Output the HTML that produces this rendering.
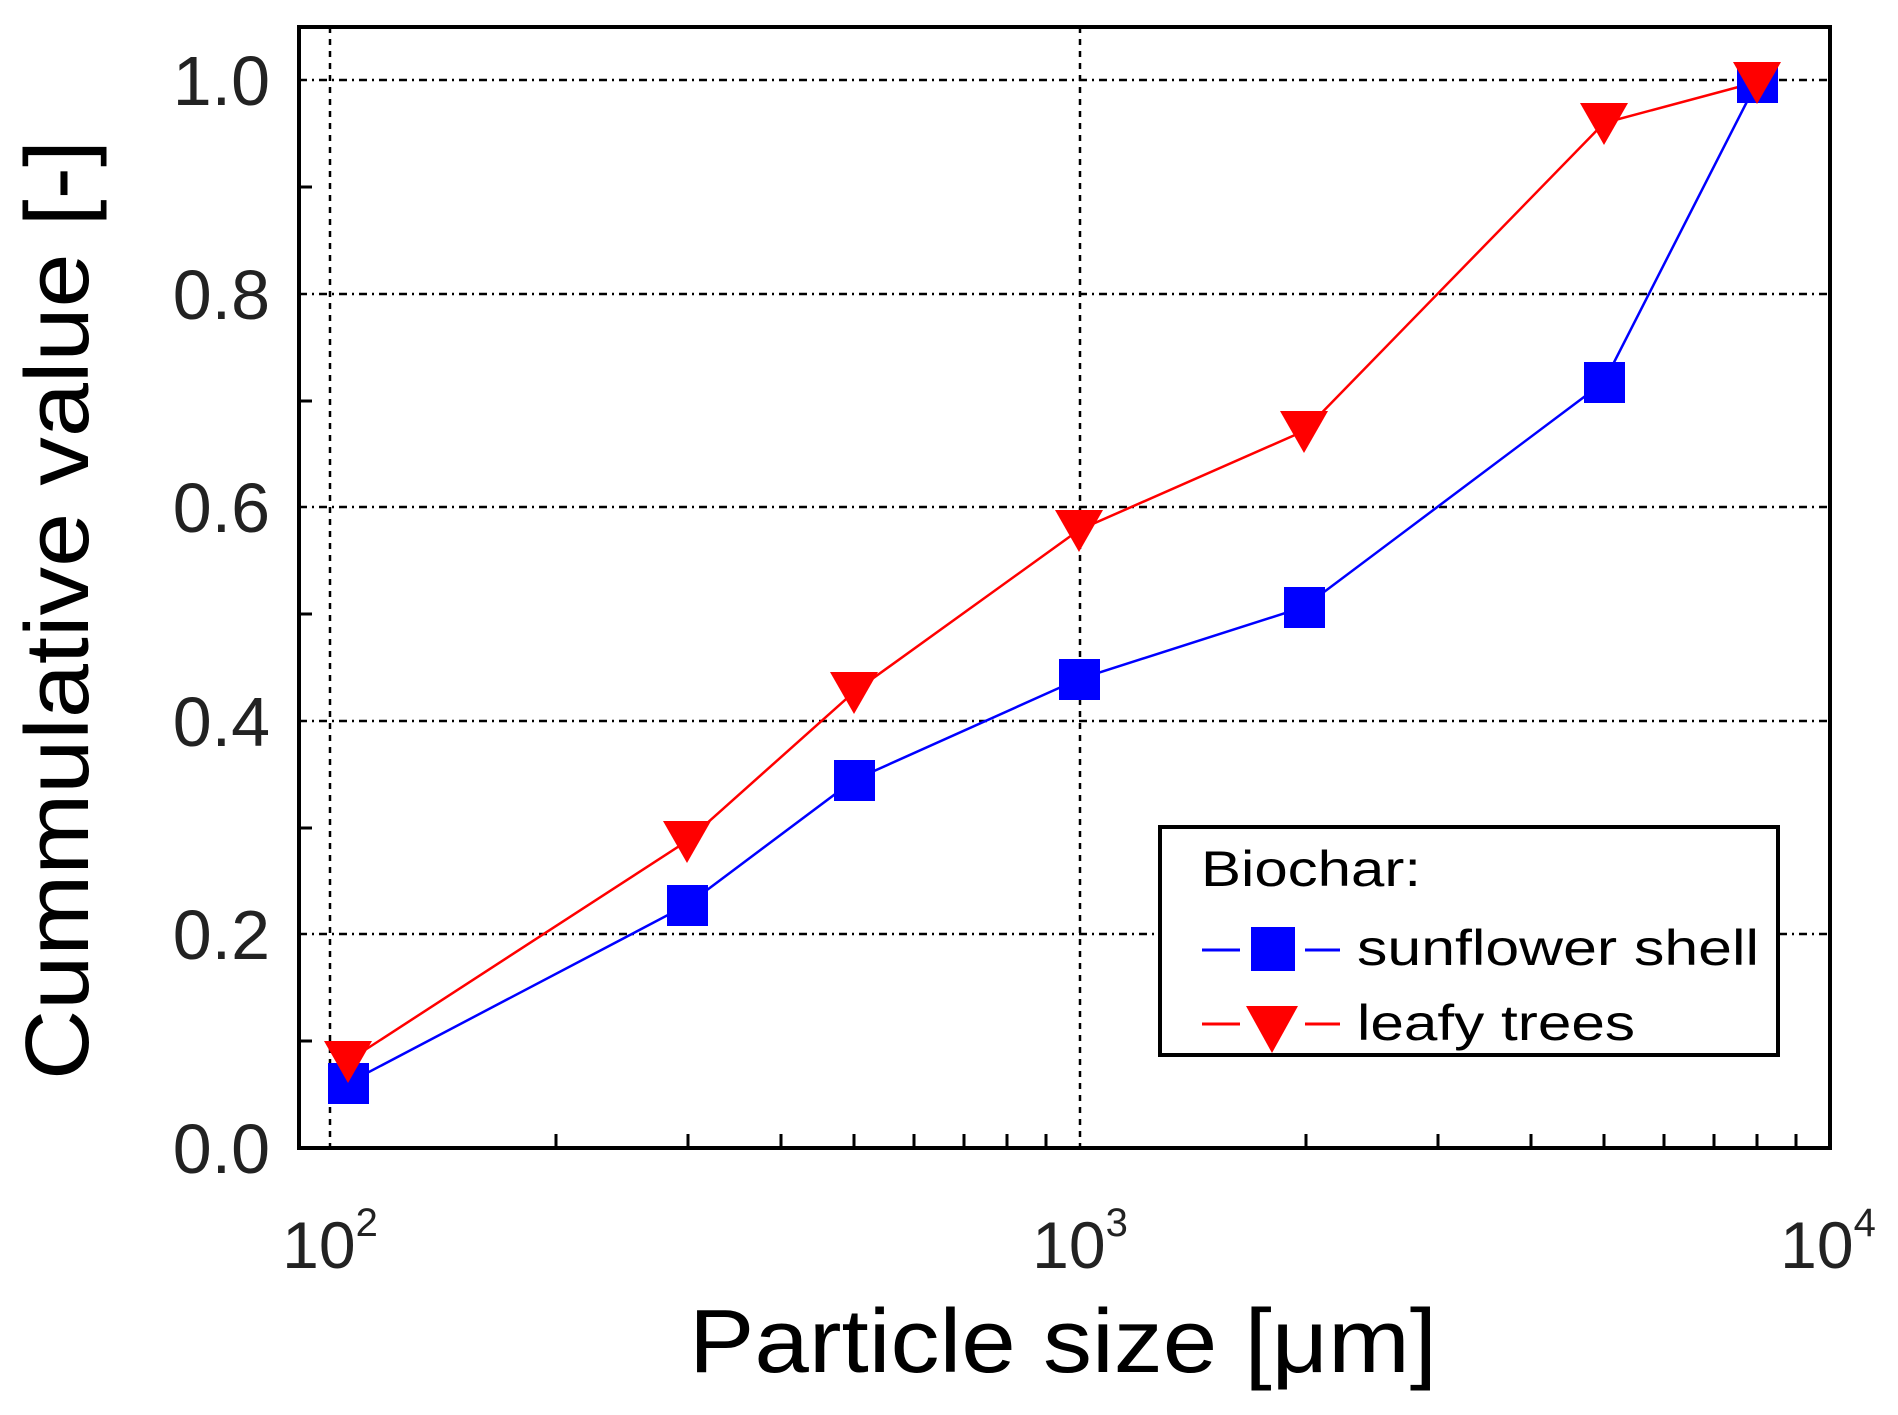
<!DOCTYPE html>
<html><head><meta charset="utf-8"><style>html,body{margin:0;padding:0;background:#fff}svg{display:block}</style></head>
<body>
<svg width="1898" height="1415" viewBox="0 0 1898 1415" xmlns="http://www.w3.org/2000/svg" font-family="Liberation Sans, sans-serif">
<rect width="1898" height="1415" fill="#fff"/>
<g stroke="#000" stroke-width="2.5" stroke-dasharray="8,5,2,5" fill="none">
<line x1="299" y1="80" x2="1830" y2="80"/>
<line x1="299" y1="294" x2="1830" y2="294"/>
<line x1="299" y1="507" x2="1830" y2="507"/>
<line x1="299" y1="721" x2="1830" y2="721"/>
<line x1="299" y1="934" x2="1830" y2="934"/>
</g>
<g stroke="#000" stroke-width="2.5" stroke-dasharray="6,6" fill="none">
<line x1="330" y1="27" x2="330" y2="1148"/>
<line x1="1080" y1="27" x2="1080" y2="1148"/>
</g>
<g stroke="#000" stroke-width="3">
<line x1="556" y1="1148" x2="556" y2="1134"/><line x1="688" y1="1148" x2="688" y2="1134"/><line x1="781" y1="1148" x2="781" y2="1134"/><line x1="854" y1="1148" x2="854" y2="1134"/><line x1="914" y1="1148" x2="914" y2="1134"/><line x1="964" y1="1148" x2="964" y2="1134"/><line x1="1007" y1="1148" x2="1007" y2="1134"/><line x1="1046" y1="1148" x2="1046" y2="1134"/>
<line x1="1306" y1="1148" x2="1306" y2="1134"/><line x1="1438" y1="1148" x2="1438" y2="1134"/><line x1="1531" y1="1148" x2="1531" y2="1134"/><line x1="1604" y1="1148" x2="1604" y2="1134"/><line x1="1664" y1="1148" x2="1664" y2="1134"/><line x1="1714" y1="1148" x2="1714" y2="1134"/><line x1="1757" y1="1148" x2="1757" y2="1134"/><line x1="1796" y1="1148" x2="1796" y2="1134"/>
<line x1="299" y1="187" x2="312" y2="187"/><line x1="299" y1="401" x2="312" y2="401"/><line x1="299" y1="614" x2="312" y2="614"/><line x1="299" y1="828" x2="312" y2="828"/><line x1="299" y1="1041" x2="312" y2="1041"/>
</g>
<rect x="299" y="27" width="1531" height="1121" fill="none" stroke="#000" stroke-width="4"/>
<polyline points="348,1083 687,905 854,780 1079,679 1304,607 1604,382 1757,82" fill="none" stroke="#0000ff" stroke-width="2.5"/>
<polyline points="348,1061 687,841 854,692 1079,530 1304,431 1604,123 1757,82" fill="none" stroke="#ff0000" stroke-width="2.5"/>
<g fill="#0000ff">
<rect x="328" y="1063" width="41" height="41"/><rect x="667" y="885" width="41" height="41"/><rect x="834" y="760" width="41" height="41"/><rect x="1059" y="659" width="41" height="41"/><rect x="1284" y="587" width="41" height="41"/><rect x="1584" y="362" width="41" height="41"/><rect x="1737" y="62" width="41" height="41"/>
</g>
<g fill="#ff0000">
<polygon points="324,1041 372,1041 348,1083"/><polygon points="663,821 711,821 687,863"/><polygon points="830,672 878,672 854,714"/><polygon points="1055,510 1103,510 1079,552"/><polygon points="1280,411 1328,411 1304,453"/><polygon points="1580,103 1628,103 1604,145"/><polygon points="1733,62 1781,62 1757,104"/>
</g>
<rect x="1160" y="827" width="618" height="228" fill="#fff" stroke="#000" stroke-width="4"/>
<text x="1201" y="886" font-size="50" textLength="220" lengthAdjust="spacingAndGlyphs">Biochar:</text>
<line x1="1202" y1="950" x2="1240" y2="950" stroke="#0000ff" stroke-width="3"/>
<line x1="1305" y1="950" x2="1340" y2="950" stroke="#0000ff" stroke-width="3"/>
<rect x="1251" y="927" width="44" height="44" fill="#0000ff"/>
<text x="1357" y="965" font-size="50" textLength="402" lengthAdjust="spacingAndGlyphs">sunflower shell</text>
<line x1="1202" y1="1024" x2="1240" y2="1024" stroke="#ff0000" stroke-width="3"/>
<line x1="1305" y1="1024" x2="1340" y2="1024" stroke="#ff0000" stroke-width="3"/>
<polygon points="1246,1006 1298,1006 1272,1053" fill="#ff0000"/>
<text x="1357" y="1040" font-size="50" textLength="278" lengthAdjust="spacingAndGlyphs">leafy trees</text>
<g font-size="70" text-anchor="end" fill="#222">
<text x="270" y="105">1.0</text><text x="270" y="319">0.8</text><text x="270" y="532">0.6</text><text x="270" y="746">0.4</text><text x="270" y="959">0.2</text><text x="270" y="1173">0.0</text>
</g>
<g font-size="66" fill="#222" text-anchor="middle">
<text x="330" y="1268">10<tspan font-size="40" dy="-32">2</tspan></text>
<text x="1080" y="1268">10<tspan font-size="40" dy="-32">3</tspan></text>
<text x="1828" y="1268">10<tspan font-size="40" dy="-32">4</tspan></text>
</g>
<text x="1063" y="1372" font-size="90" text-anchor="middle" textLength="748" lengthAdjust="spacingAndGlyphs">Particle size [μm]</text>
<text transform="translate(88,610) rotate(-90)" font-size="90" text-anchor="middle" textLength="940" lengthAdjust="spacingAndGlyphs">Cummulative value [-]</text>
</svg>
</body></html>
